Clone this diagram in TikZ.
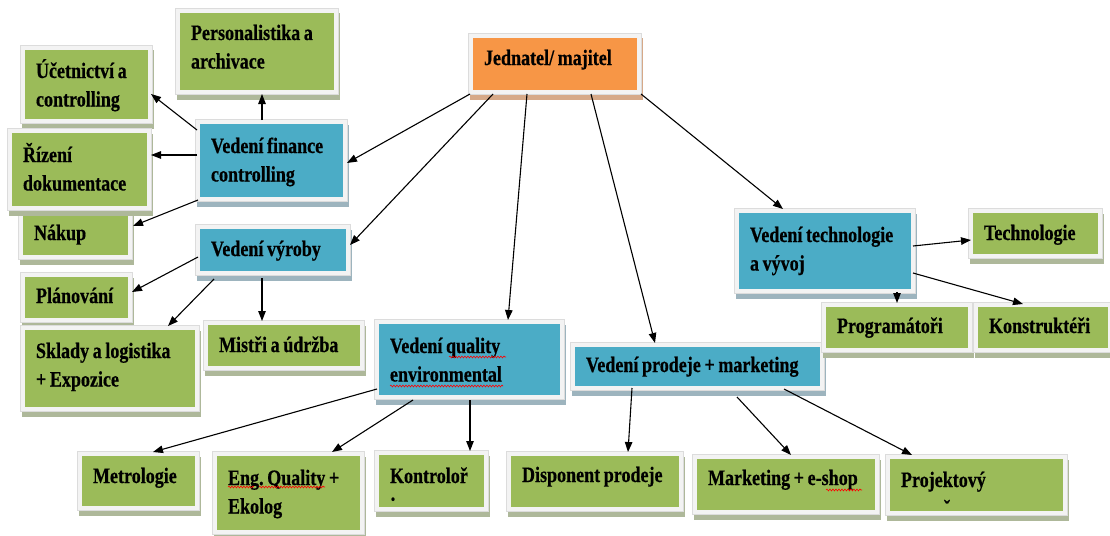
\documentclass[tikz,border=0pt]{standalone}
\usepackage{fontspec}
\usetikzlibrary{arrows.meta,shadows,decorations.pathmorphing}
\newfontfamily\boxfont{Liberation Serif}[FakeStretch=0.82, FakeBold=0.5]
\newcommand\boxsp{\frenchspacing\spaceskip 3.6pt plus 1pt minus 0.5pt\relax}
\definecolor{gfill}{HTML}{9BBB59}
\definecolor{gsh}{HTML}{AEB89A}
\definecolor{bfill}{HTML}{4BACC6}
\definecolor{bsh}{HTML}{9DB4BE}
\definecolor{ofill}{HTML}{F79646}
\definecolor{osh}{HTML}{D6A988}
\definecolor{framec}{HTML}{F3F3F3}
\definecolor{edgec}{HTML}{DCDCDC}
\tikzset{
  basebox/.style={anchor=center, inner xsep=11pt, inner ysep=0pt, outer sep=4pt,
    align=left, text=black, font={\boxfont\bfseries\fontsize{22pt}{28.5pt}\selectfont}},
  framed/.style={general shadow={fill=#1, draw=#1, line width=9pt, shadow xshift=1pt, shadow yshift=-5pt},
    preaction={draw=edgec, line width=10pt}, preaction={draw=framec, line width=8.5pt}},
  gbox/.style={basebox, framed=gsh, fill=gfill},
  bbox/.style={basebox, framed=bsh, fill=bfill},
  obox/.style={basebox, framed=osh, fill=ofill},
  sz/.style n args={3}{text width=#1pt, text height=#2pt, text depth=#3pt},
  arr/.style={draw=black, line width=1.1pt, -{Triangle[length=10pt,width=7.5pt]}},
  squig/.style={draw=red, line width=0.6pt, decorate, decoration={snake, amplitude=0.9pt, segment length=3pt}}
}
\newcommand\bl[1]{\mbox{\boxsp #1}}
\begin{document}
\begin{tikzpicture}[x=1pt,y=-1pt]
\useasboundingbox (0,0) rectangle (1110,535);
\fill[white] (0,0) rectangle (1110,535);

\node[obox, sz={142}{27}{25}] (jed) at (555,64) {\bl{Jednatel/ majitel}};
\node[gbox, sz={132}{27}{50}] (pers) at (257,51.5) {\bl{Personalistika a}\\\bl{archivace}};
\node[gbox, sz={101}{28}{41}] (uce) at (86.5,84.5) {\bl{Účetnictví a}\\\bl{controlling}};
\node[gbox, sz={83}{27}{15}] (nak) at (75.5,234) {\bl{Nákup}};
\node[gbox, sz={113}{29}{44}] (riz) at (79.5,169.5) {\bl{Řízení}\\\bl{dokumentace}};
\node[bbox, sz={121}{29}{44}] (fin) at (271.5,160.5) {\bl{Vedení finance}\\\bl{controlling}};
\node[bbox, sz={124}{27}{15}] (vyr) at (273,250) {\bl{Vedení výroby}};
\node[gbox, sz={81}{26}{15}] (plan) at (76.5,297.5) {\bl{Plánování}};
\node[gbox, sz={148}{28}{49}] (skl) at (110,368.5) {\bl{Sklady a logistika}\\\bl{+ Expozice}};
\node[gbox, sz={130}{27}{14}] (mis) at (284,345.5) {\bl{Mistři a údržba}};
\node[bbox, sz={159}{29}{42}] (qua) at (469.5,359.5) {\bl{Vedení quality}\\\bl{environmental}};
\node[bbox, sz={223}{25}{14}] (pro) at (697.5,366.5) {\bl{Vedení prodeje + marketing}};
\node[bbox, sz={150}{29}{47}] (tec) at (825,251) {\bl{Vedení technologie}\\\bl{a vývoj}};
\node[gbox, sz={103}{27}{14}] (tch) at (1035.5,233.5) {\bl{Technologie}};
\node[gbox, sz={120}{26}{15}] (prg) at (897,327.5) {\bl{Programátoři}};
\node[gbox, sz={108}{26}{15}] (kon) at (1043,327.5) {\bl{Konstruktéři}};
\node[gbox, sz={91}{27}{23}] (met) at (138.5,481) {\bl{Metrologie}};
\node[gbox, sz={121}{29}{45}] (eng) at (288.5,493) {\bl{Eng. Quality +}\\\bl{Ekolog}};
\node[gbox, sz={83}{28}{24}] (kot) at (431.5,481) {\bl{Kontroloř}\\\bl{\raisebox{5pt}{·}}};
\node[gbox, sz={146}{26}{25}] (dis) at (595,481.5) {\bl{Disponent prodeje}};
\node[gbox, sz={156}{26}{25}] (mar) at (786,484.5) {\bl{Marketing + e-shop}};
\node[gbox, sz={151}{28}{24}] (prj) at (976.5,485) {\bl{Projektový}\\\bl{\hspace*{43pt}ˇ}};

% spelling squiggles
\draw[squig] ([shift={(74,37)}]qua.north west) -- ([shift={(131,37)}]qua.north west);
\draw[squig] ([shift={(15,66)}]qua.north west) -- ([shift={(128,66)}]qua.north west);
\draw[squig] ([shift={(15,35)}]eng.north west) -- ([shift={(41,35)}]eng.north west);
\draw[squig] ([shift={(46,35)}]eng.north west) -- ([shift={(112,35)}]eng.north west);
\draw[squig] ([shift={(133,35)}]mar.north west) -- ([shift={(169,35)}]mar.north west);

\draw[arr] ([shift={(1,0)}]jed.south west) -- ([shift={(0,43)}]fin.north east);
\draw[arr] ([shift={(24,0)}]jed.south west) -- ([shift={(0,20)}]vyr.north east);
\draw[arr] ([shift={(58,0)}]jed.south west) -- ([shift={(133,0)}]qua.north west);
\draw[arr] ([shift={(122,0)}]jed.south west) -- ([shift={(84,0)}]pro.north west);
\draw[arr] (jed.south east) -- ([shift={(48,0)}]tec.north west);
\draw[arr] ([shift={(66,0)}]fin.north west) -- ([shift={(86,0)}]pers.south west);
\draw[arr] ([shift={(1,10)}]fin.north west) -- ([shift={(-1,48)}]uce.north east);
\draw[arr] ([shift={(1,35)}]fin.north west) -- ([shift={(0,26)}]riz.north east);
\draw[arr] ([shift={(2,-1)}]fin.south west) -- ([shift={(1,17)}]nak.north east);
\draw[arr] ([shift={(2,32)}]vyr.north west) -- ([shift={(0,19)}]plan.north east);
\draw[arr] ([shift={(18,4)}]vyr.south west) -- ([shift={(147,0)}]skl.north west);
\draw[arr] ([shift={(66,3)}]vyr.south west) -- ([shift={(58,0)}]mis.north west);
\draw[arr] ([shift={(2,69)}]qua.north west) -- ([shift={(75,0)}]met.north west);
\draw[arr] ([shift={(38,1)}]qua.south west) -- ([shift={(119,0)}]eng.north west);
\draw[arr] ([shift={(95,1)}]qua.south west) -- ([shift={(95,0)}]kot.north west);
\draw[arr] ([shift={(61,-2)}]pro.south west) -- ([shift={(121,0)}]dis.north west);
\draw[arr] ([shift={(166,7)}]pro.south west) -- ([shift={(98,0)}]mar.north west);
\draw[arr] ([shift={(213,-1)}]pro.south west) -- ([shift={(26,0)}]prj.north west);
\draw[arr] ([shift={(-2,37)}]tec.north east) -- ([shift={(2,31)}]tch.north west);
\draw[arr] ([shift={(162,-1)}]tec.south west) -- ([shift={(75,0)}]prg.north west);
\draw[arr] ([shift={(-2,64)}]tec.north east) -- ([shift={(49,1)}]kon.north west);
\end{tikzpicture}
\end{document}
